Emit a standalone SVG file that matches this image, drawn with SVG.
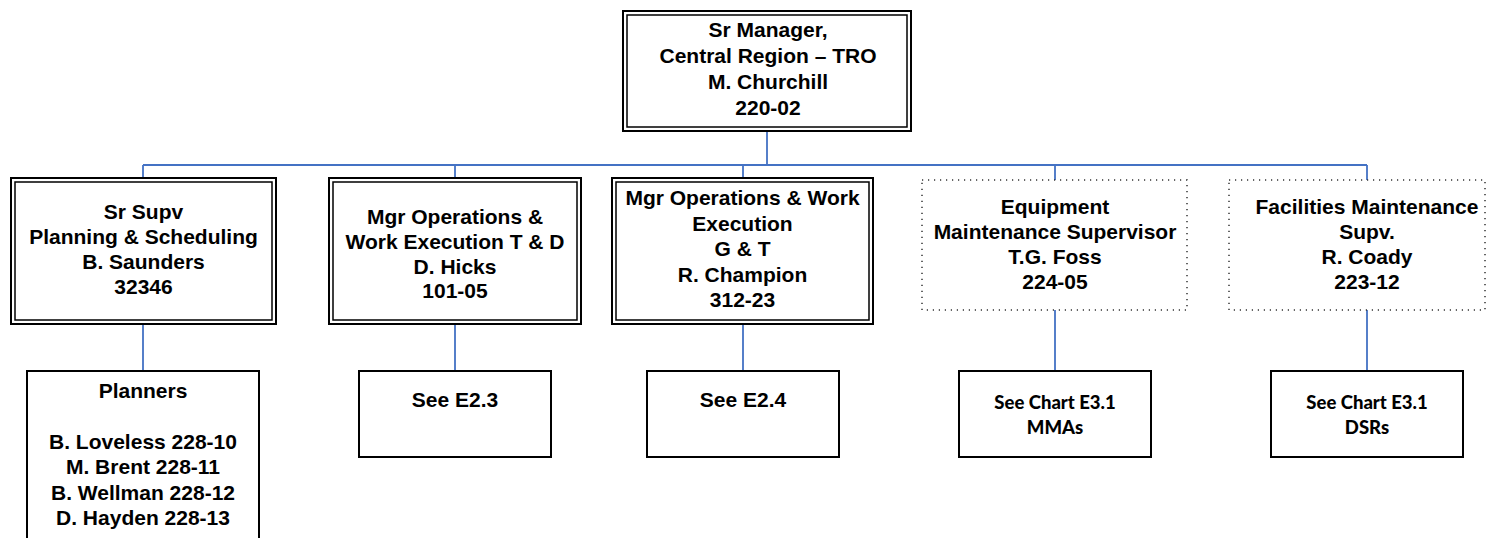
<svg xmlns="http://www.w3.org/2000/svg" width="1488" height="538" viewBox="0 0 1488 538">
<style>
.bg{fill:#ffffff}
.outer{fill:#ffffff;stroke:#000000;stroke-width:2}
.inner{fill:none;stroke:#000000;stroke-width:1.5}
.dotted{fill:#ffffff;stroke:#333333;stroke-width:1.5;stroke-dasharray:1.2 4.8}
.plain{fill:#ffffff;stroke:#000000;stroke-width:2}
.conn{fill:none;stroke:#4472C4;stroke-width:1.8}
text{font-family:"Liberation Sans",Arial,sans-serif;font-weight:bold;font-size:21px;fill:#000000;text-anchor:middle}
text.cal{font-family:Lato,"Open Sans",sans-serif;font-weight:900;font-size:18.5px}
</style>
<rect class="bg" x="0" y="0" width="1488" height="538"/>
<g id="connectors">
<path class="conn" d="M767 131V165M143 165H1367M143 165V178M455 165V178M743 165V178M1055 165V180M1367 165V180"/>
<path class="conn" d="M143 324V371M455 324V371M743 324V371M1055 310V371M1367 310V371"/>
</g>
<g id="n-top">
<rect class="outer" x="623" y="11" width="288" height="120"/>
<rect class="inner" x="627" y="15" width="280" height="112"/>
<text x="768" y="37">Sr Manager,</text>
<text x="768" y="63">Central Region – TRO</text>
<text x="768" y="89">M. Churchill</text>
<text x="768" y="115">220-02</text>
</g>
<g id="n-saunders">
<rect class="outer" x="11" y="178" width="265" height="146"/>
<rect class="inner" x="15" y="182" width="257" height="138"/>
<text x="143.5" y="219">Sr Supv</text>
<text x="143.5" y="244">Planning &amp; Scheduling</text>
<text x="143.5" y="269">B. Saunders</text>
<text x="143.5" y="294">32346</text>
</g>
<g id="n-hicks">
<rect class="outer" x="329" y="178" width="252" height="146"/>
<rect class="inner" x="333" y="182" width="244" height="138"/>
<text x="455" y="224">Mgr Operations &amp;</text>
<text x="455" y="249">Work Execution T &amp; D</text>
<text x="455" y="274">D. Hicks</text>
<text x="455" y="298">101-05</text>
</g>
<g id="n-champion">
<rect class="outer" x="612" y="178" width="261" height="146"/>
<rect class="inner" x="616" y="182" width="253" height="138"/>
<text x="742.5" y="205">Mgr Operations &amp; Work</text>
<text x="742.5" y="231">Execution</text>
<text x="742.5" y="256">G &amp; T</text>
<text x="742.5" y="282">R. Champion</text>
<text x="742.5" y="307">312-23</text>
</g>
<g id="n-foss">
<rect class="dotted" x="922" y="180" width="265" height="130"/>
<text x="1055" y="214">Equipment</text>
<text x="1055" y="239">Maintenance Supervisor</text>
<text x="1055" y="264">T.G. Foss</text>
<text x="1055" y="289">224-05</text>
</g>
<g id="n-coady">
<rect class="dotted" x="1229" y="180" width="256" height="130"/>
<text x="1367" y="214">Facilities Maintenance</text>
<text x="1367" y="239">Supv.</text>
<text x="1367" y="264">R. Coady</text>
<text x="1367" y="289">223-12</text>
</g>
<g id="n-planners">
<rect class="plain" x="27" y="371" width="232" height="180"/>
<text x="143" y="398">Planners</text>
<text x="143" y="449">B. Loveless 228-10</text>
<text x="143" y="474">M. Brent 228-11</text>
<text x="143" y="500">B. Wellman 228-12</text>
<text x="143" y="525">D. Hayden 228-13</text>
</g>
<g id="n-e23">
<rect class="plain" x="359" y="371" width="192" height="86"/>
<text x="455" y="407">See E2.3</text>
</g>
<g id="n-e24">
<rect class="plain" x="647" y="371" width="192" height="86"/>
<text x="743" y="407">See E2.4</text>
</g>
<g id="n-mma">
<rect class="plain" x="959" y="371" width="192" height="86"/>
<text class="cal" x="1055" y="409">See Chart E3.1</text>
<text class="cal" x="1055" y="434">MMAs</text>
</g>
<g id="n-dsr">
<rect class="plain" x="1271" y="371" width="192" height="86"/>
<text class="cal" x="1367" y="409">See Chart E3.1</text>
<text class="cal" x="1367" y="434">DSRs</text>
</g>
</svg>
